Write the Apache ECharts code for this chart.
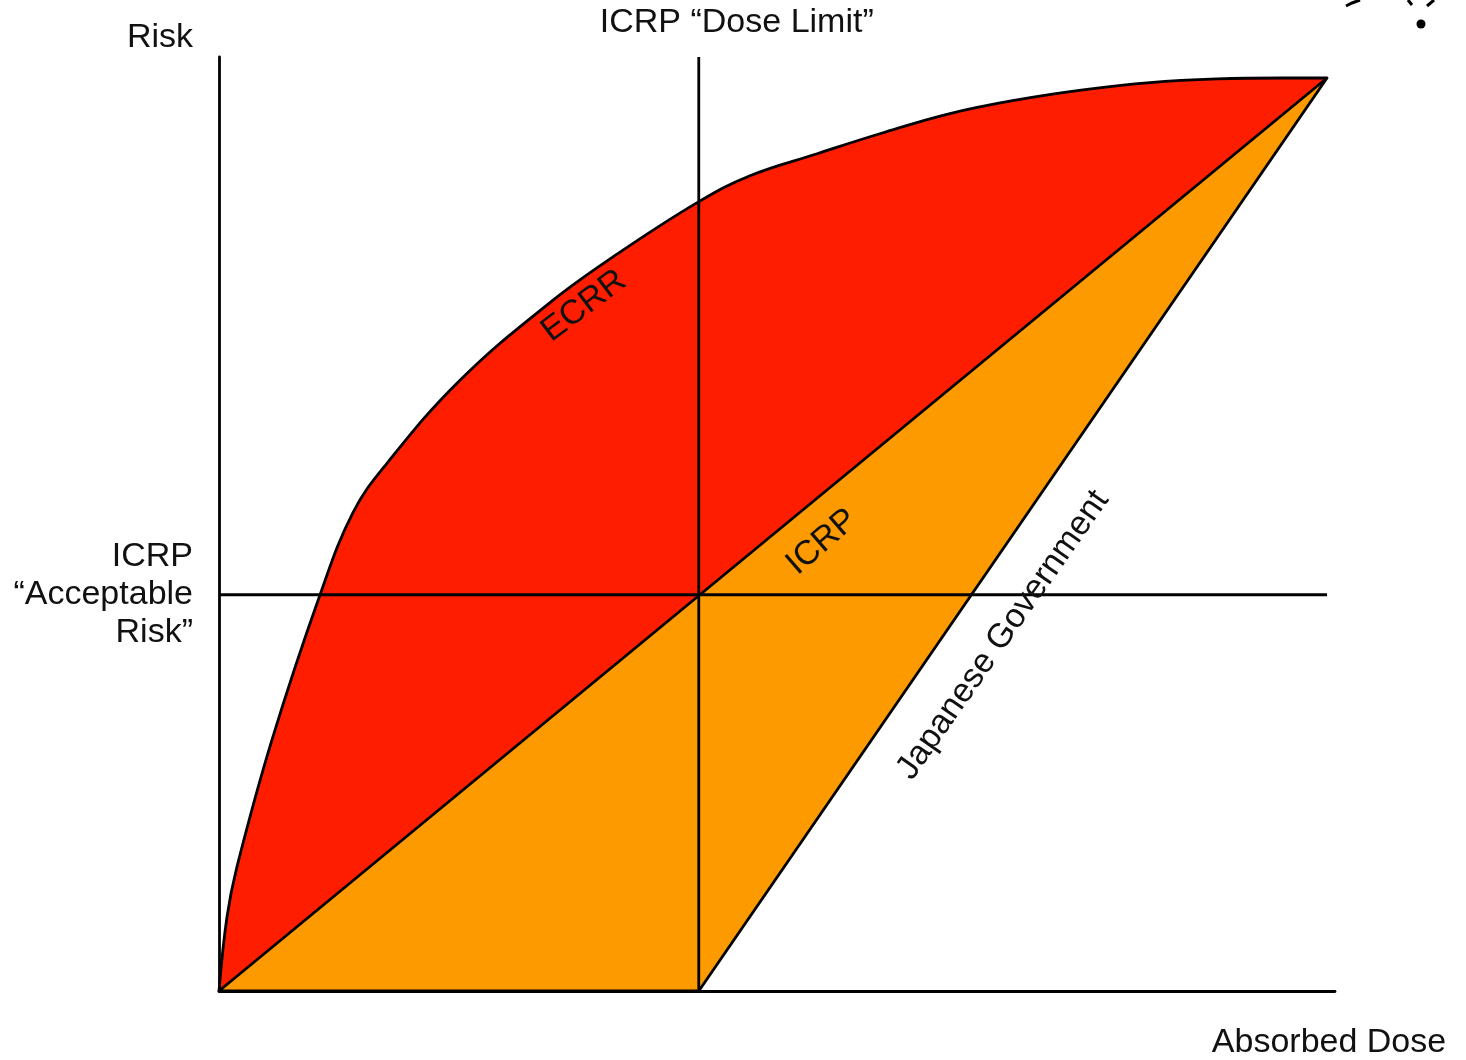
<!DOCTYPE html>
<html>
<head>
<meta charset="utf-8">
<script src="https://cdn.jsdelivr.net/npm/echarts@6/dist/echarts.min.js"></script>
<style>
  html, body { margin: 0; padding: 0; background: #fff; }
  #chart { width: 1466px; height: 1060px; }
</style>
</head>
<body>
<div id="chart"></div>
<script>
// axis extents (schematic units, dose and risk both 0..100 at the apex)
const doseMax = 100.72;
const riskMax = 102.3;

// ICRP reference levels
const doseLimit = 43.3;
const acceptableRisk = 43.4;

// ECRR curve
const ecrrDose = [0, 0.72, 1.62, 4.78, 9.12, 12.09, 15.16, 21.75, 29.87, 35.92,
  43.23, 47.92, 53.97, 59.93, 65.97, 72.02, 77.98, 84.03, 90.07, 96.03, 100];
const ecrrRisk = [0, 8.1, 13.6, 27.5, 43.4, 52.4, 57.8, 66.9, 75.4, 80.7,
  86.4, 89.3, 91.7, 94.0, 96.1, 97.6, 98.7, 99.5, 99.9, 100, 100];

// ICRP linear model
const icrpDose = [0, 100];
const icrpRisk = [0, 100];

// Japanese Government line (starts at the dose limit)
const japanDose = [43.3, 100];
const japanRisk = [0, 100];

const RED = '#ff1d00';
const ORANGE = '#fd9a00';
const FONT = '"Liberation Sans", Arial, sans-serif';
const LW = 2.8;

const zip = (xs, ys) => xs.map((x, i) => [x, ys[i]]);

const ecrrPts = zip(ecrrDose, ecrrRisk);
const icrpPts = zip(icrpDose, icrpRisk);
const japanPts = zip(japanDose, japanRisk);

// orange: under ICRP line, above Japanese line
const orangePts = icrpPts.concat(japanPts.slice().reverse());
// white: right of Japanese line (covers the red area there)
const whitePts = japanPts.concat([[japanDose[japanDose.length - 1], 0]]);

function polygonSeries(pts, fill, stroke, z) {
  return {
    type: 'custom',
    z: z,
    silent: true,
    data: [[0, 0]],
    renderItem: function (params, api) {
      return {
        type: 'polygon',
        shape: { points: pts.map(p => api.coord(p)) },
        style: {
          fill: fill,
          stroke: stroke || null,
          lineWidth: stroke ? LW : 0,
          lineJoin: 'round'
        }
      };
    }
  };
}

const chart = echarts.init(document.getElementById('chart'));

const option = {
  animation: false,
  backgroundColor: '#fff',
  grid: { left: 219, right: 131, top: 57, bottom: 69 },
  xAxis: {
    type: 'value', min: 0, max: doseMax, z: 10,
    axisLine: { show: true, lineStyle: { color: '#000', width: LW } },
    axisTick: { show: false }, axisLabel: { show: false }, splitLine: { show: false }
  },
  yAxis: {
    type: 'value', min: 0, max: riskMax, z: 10,
    axisLine: { show: true, lineStyle: { color: '#000', width: LW } },
    axisTick: { show: false }, axisLabel: { show: false }, splitLine: { show: false }
  },
  series: [
    {
      name: 'ECRR',
      type: 'line',
      z: 1,
      data: ecrrPts,
      smooth: 0.4,
      symbol: 'none',
      lineStyle: { color: '#000', width: LW },
      areaStyle: { color: RED, opacity: 1, origin: 'start' }
    },
    polygonSeries(whitePts, '#fff', null, 2),
    polygonSeries(orangePts, ORANGE, '#000', 3),
    {
      name: 'dose limit',
      type: 'line', z: 4, symbol: 'none',
      data: [[doseLimit, 0], [doseLimit, riskMax]],
      lineStyle: { color: '#000', width: LW }
    },
    {
      name: 'acceptable risk',
      type: 'line', z: 4, symbol: 'none',
      data: [[0, acceptableRisk], [100, acceptableRisk]],
      lineStyle: { color: '#000', width: LW }
    }
  ]
};
chart.setOption(option);

function txt(text, x, y, opts) {
  return Object.assign({
    type: 'text', x: x, y: y, z: 20,
    style: Object.assign({
      text: text, fill: '#111', font: '34px ' + FONT,
      align: 'center', verticalAlign: 'middle'
    }, (opts && opts.style) || {})
  }, (opts && opts.el) || {});
}

const dl = chart.convertToPixel({ gridIndex: 0 }, [doseLimit, acceptableRisk]);
const deg = Math.PI / 180;

chart.setOption({
  graphic: [
    txt('Risk', 193, 38, { style: { align: 'right' } }),
    txt('ICRP \u201cDose Limit\u201d', dl[0] + 38, 23),
    txt('ICRP\n\u201cAcceptable\nRisk\u201d', 193, dl[1], { style: { align: 'right', lineHeight: 38 } }),
    txt('Absorbed Dose', 1329, 1043),
    txt('ECRR', 584, 306, { el: { rotation: 37 * deg } }),
    txt('ICRP', 822, 542, { el: { rotation: 41 * deg } }),
    txt('Japanese Government', 1003, 635, { el: { rotation: 55 * deg } }),
    // scrap of ink in the top-right corner of the original
    { type: 'circle', shape: { cx: 1421, cy: 24, r: 4.5 }, style: { fill: '#000' } },
    { type: 'polyline', shape: { points: [[1346, 6], [1352, 3], [1360, 0]] }, style: { stroke: '#000', lineWidth: 3, fill: null } },
    { type: 'polyline', shape: { points: [[1408, 0], [1412, 5]] }, style: { stroke: '#000', lineWidth: 3, fill: null } },
    { type: 'polyline', shape: { points: [[1427, 6], [1434, 0]] }, style: { stroke: '#000', lineWidth: 3, fill: null } }
  ]
});
</script>
</body>
</html>
